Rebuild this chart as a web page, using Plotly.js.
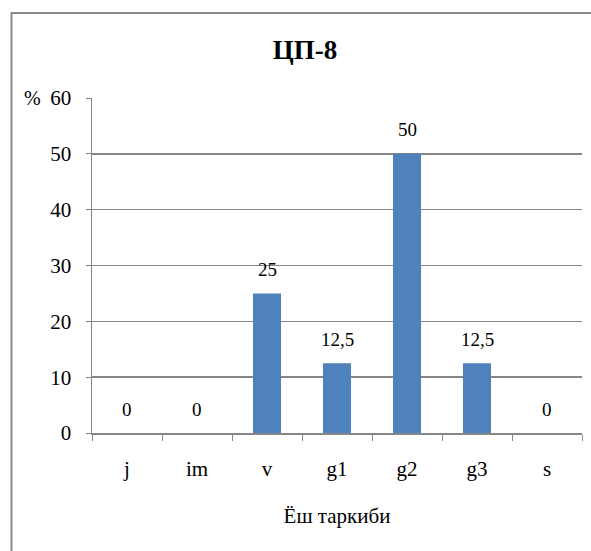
<!DOCTYPE html>
<html>
<head>
<meta charset="utf-8">
<script src="https://cdn.plot.ly/plotly-3.0.1.min.js"></script>
<style>
html,body{margin:0;padding:0;background:#fff;overflow:hidden;}
#chart{width:591px;height:551px;}
</style>
</head>
<body>
<div id="chart"></div>
<script>
var categories = ["j", "im", "v", "g1", "g2", "g3", "s"];
var values = [0, 0, 25, 12.5, 50, 12.5, 0];
var valueLabels = ["0", "0", "25", "12,5", "50", "12,5", "0"];
var yTicks = [0, 10, 20, 30, 40, 50, 60];

var serif = "'Liberation Serif', 'Times New Roman', serif";
var gray = "#868686";

var trace = {
  type: "bar",
  x: categories,
  y: values,
  marker: {color: "#4F81BD"},
  width: 0.4,
  hoverinfo: "none"
};

var annotations = categories.map(function (c, i) {
  return {
    x: c, y: values[i], xref: "x", yref: "y",
    text: valueLabels[i], showarrow: false,
    yanchor: "middle", yshift: 24,
    font: {family: serif, size: 19, color: "#000"}
  };
});
annotations.push({
  xref: "paper", yref: "paper", x: -0.122, y: 1,
  text: "%", showarrow: false, xanchor: "center", yanchor: "middle",
  font: {family: serif, size: 20, color: "#000"}
});

var layout = {
  width: 591, height: 551,
  margin: {l: 92, r: 9, t: 98, b: 118},
  paper_bgcolor: "#fff", plot_bgcolor: "#fff",
  showlegend: false,
  font: {family: serif},
  title: {
    text: "<b>ЦП-8</b>",
    font: {family: serif, size: 27, color: "#000"},
    x: 0.516, xanchor: "center", y: 0.91, yanchor: "middle"
  },
  xaxis: {
    type: "category",
    showline: true, linecolor: gray, linewidth: 1.5,
    ticks: "outside", tickson: "boundaries", ticklen: 6, tickcolor: gray, tickwidth: 1,
    ticklabelstandoff: 16,
    tickfont: {family: serif, size: 21, color: "#000"},
    title: {text: "Ёш таркиби", font: {family: serif, size: 21, color: "#000"}, standoff: 28},
    showgrid: false, zeroline: false, fixedrange: true
  },
  yaxis: {
    range: [0, 60],
    tickvals: yTicks,
    ticktext: yTicks.map(String),
    showline: true, linecolor: gray, linewidth: 1.5,
    ticks: "outside", ticklen: 5, tickcolor: gray, tickwidth: 1,
    ticklabelstandoff: 10,
    tickfont: {family: serif, size: 21, color: "#000"},
    showgrid: true, gridcolor: gray, gridwidth: 1.5,
    zeroline: false, fixedrange: true
  },
  annotations: annotations,
  shapes: [{
    type: "rect", xref: "paper", yref: "paper",
    x0: -0.1643, x1: 1.05, y0: -0.4, y1: 1.2537,
    line: {color: "#8c8c8c", width: 2}, fillcolor: "rgba(0,0,0,0)", layer: "below"
  }]
};

Plotly.newPlot("chart", [trace], layout, {displayModeBar: false, staticPlot: true});
</script>
</body>
</html>
